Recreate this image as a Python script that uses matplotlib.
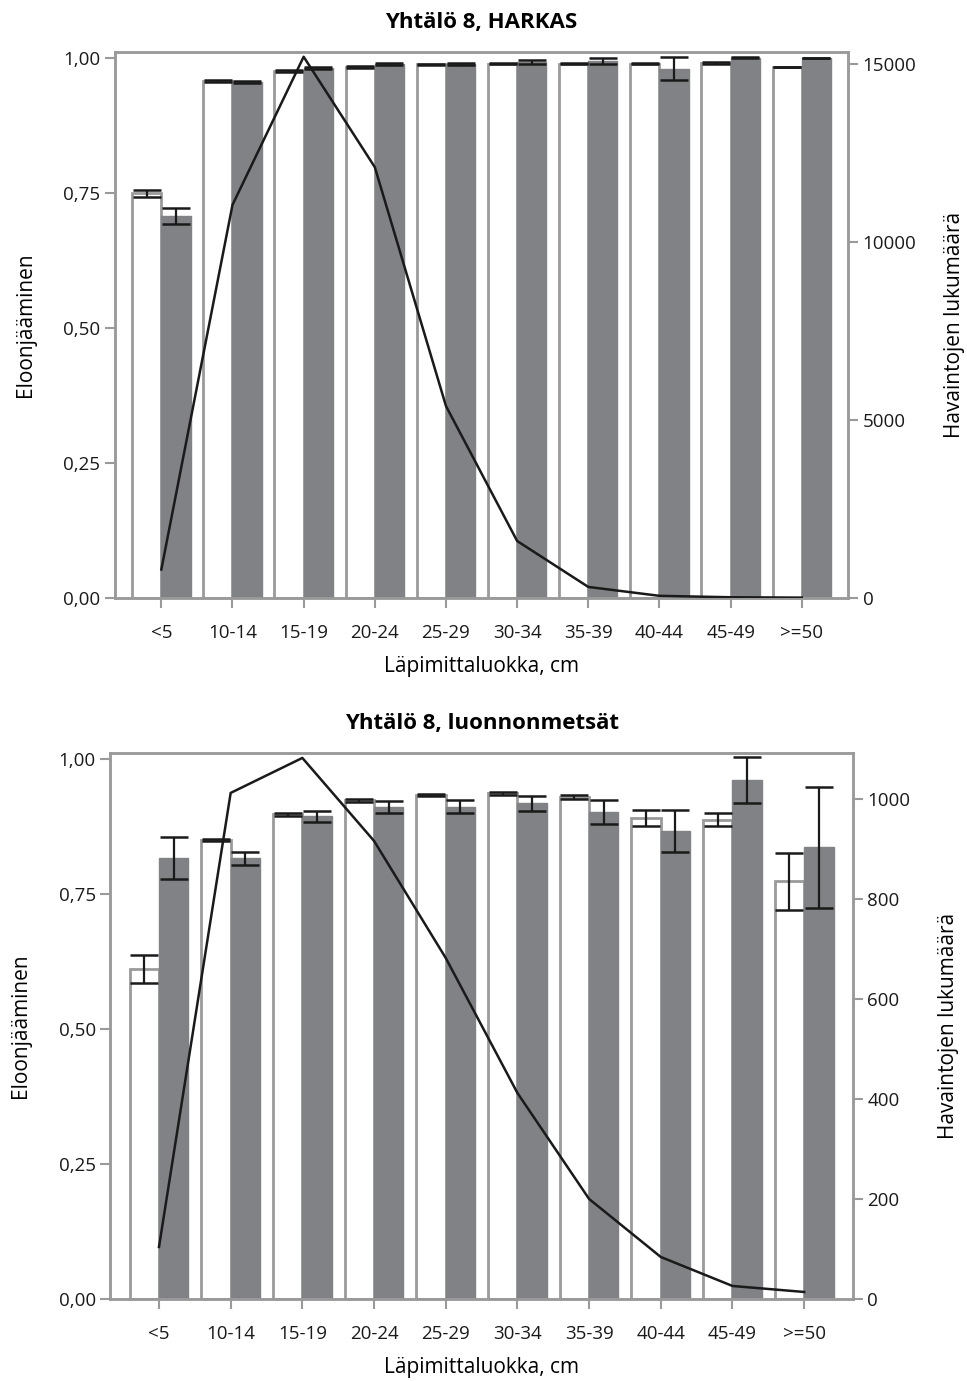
import matplotlib.pyplot as plt
import numpy as np

plt.rcParams['font.family'] = ['Open Sans', 'DejaVu Sans']

categories = ['<5', '10-14', '15-19', '20-24', '25-29', '30-34', '35-39', '40-44', '45-49', '>=50']

# Yhtälö 8, HARKAS
harkas_white = [0.749, 0.957, 0.976, 0.983, 0.988, 0.989, 0.989, 0.989, 0.990, 0.982]
harkas_white_err = [0.007, 0.001, 0.002, 0.002, 0.001, 0.001, 0.001, 0.001, 0.002, 0.0]
harkas_gray = [0.707, 0.955, 0.981, 0.988, 0.988, 0.992, 0.994, 0.980, 1.000, 1.000]
harkas_gray_err = [0.015, 0.002, 0.002, 0.002, 0.002, 0.003, 0.006, 0.022, 0.001, 0.0]
harkas_n = [800, 11040, 15200, 12100, 5390, 1600, 310, 60, 20, 10]

# Yhtälö 8, luonnonmetsät
luonto_white = [0.611, 0.849, 0.897, 0.923, 0.933, 0.936, 0.929, 0.890, 0.887, 0.773]
luonto_white_err = [0.026, 0.002, 0.002, 0.002, 0.002, 0.002, 0.004, 0.015, 0.012, 0.052]
luonto_gray = [0.817, 0.816, 0.894, 0.911, 0.911, 0.918, 0.901, 0.867, 0.961, 0.836]
luonto_gray_err = [0.039, 0.012, 0.010, 0.011, 0.012, 0.014, 0.022, 0.039, 0.042, 0.112]
luonto_n = [104, 1012, 1082, 916, 682, 412, 200, 84, 26, 14]

left_ticks = [0, 0.25, 0.5, 0.75, 1.0]
left_labels = ['0,00', '0,25', '0,50', '0,75', '1,00']

SPINE = '#9a9a9a'
GRAY = '#818286'


def draw_panel(ax, title, white, white_err, gray, gray_err, counts,
               right_ticks, right_max, xpad):
    x = np.arange(len(categories))
    w = 0.41
    ax.bar(x - w / 2, white, w, color='white', edgecolor=SPINE, linewidth=2, zorder=2)
    ax.bar(x + w / 2, gray, w, color=GRAY, edgecolor=GRAY, linewidth=1, zorder=2)
    ax.errorbar(x - w / 2, white, yerr=white_err, fmt='none', ecolor='#1a1a1a',
                elinewidth=1.6, capsize=10, capthick=1.8, zorder=3)
    ax.errorbar(x + w / 2, gray, yerr=gray_err, fmt='none', ecolor='#1a1a1a',
                elinewidth=1.6, capsize=10, capthick=1.8, zorder=3)
    ax.set_xlim(-xpad, len(categories) - 1 + xpad)
    ax.set_ylim(0, 1.011)
    ax.set_yticks(left_ticks)
    ax.set_yticklabels(left_labels)
    ax.set_xticks(x)
    ax.set_xticklabels(categories)
    ax.set_ylabel('Eloonjääminen', fontsize=15, labelpad=20)
    ax.set_xlabel('Läpimittaluokka, cm', fontsize=15, labelpad=10)
    ax.set_title(title, fontsize=16, fontweight='bold', pad=17)

    ax2 = ax.twinx()
    ax2.plot(x, counts, color='#1a1a1a', linewidth=1.8, zorder=4)
    ax2.set_ylim(0, right_max)
    ax2.set_yticks(right_ticks)
    ax2.set_ylabel('Havaintojen lukumäärä', fontsize=15, labelpad=20)

    for a in (ax, ax2):
        for s in a.spines.values():
            s.set_color(SPINE)
            s.set_linewidth(1.8)
        a.tick_params(axis='both', colors=SPINE, labelcolor='#1a1a1a',
                      labelsize=13.5, length=7, width=1.5, direction='out')
    ax.tick_params(axis='x', pad=12)
    ax.set_zorder(ax2.get_zorder() - 1)
    ax.patch.set_visible(True)
    ax2.patch.set_visible(False)
    return ax2


fig = plt.figure(figsize=(9.67, 13.81), dpi=100)
ax_top = fig.add_axes([0.119, 0.567, 0.758, 0.3955])
ax_bot = fig.add_axes([0.114, 0.0594, 0.768, 0.3954])

draw_panel(ax_top, 'Yhtälö 8, HARKAS', harkas_white, harkas_white_err,
           harkas_gray, harkas_gray_err, harkas_n,
           [0, 5000, 10000, 15000], 15340, 0.65)
draw_panel(ax_bot, 'Yhtälö 8, luonnonmetsät', luonto_white, luonto_white_err,
           luonto_gray, luonto_gray_err, luonto_n,
           [0, 200, 400, 600, 800, 1000], 1092, 0.68)

fig.savefig('out.png', dpi=100)
